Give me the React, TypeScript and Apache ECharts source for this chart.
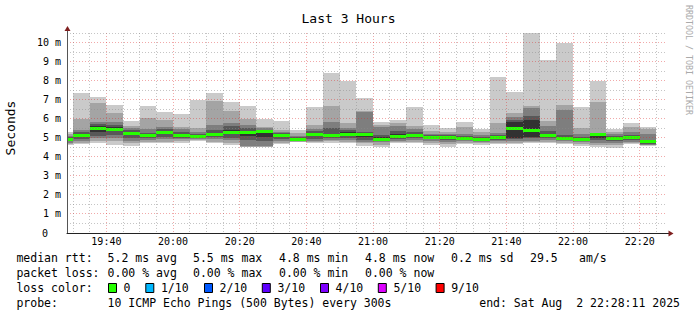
import React, { useEffect, useRef } from 'react';
import * as echarts from 'echarts';

// ---- data ----
const windowStart = '19:28:11';
const windowEnd = '22:28:11';
const slotStart = [
  '19:25', '19:30', '19:35', '19:40', '19:45', '19:50', '19:55', '20:00', '20:05', '20:10', '20:15', '20:20',
  '20:25', '20:30', '20:35', '20:40', '20:45', '20:50', '20:55', '21:00', '21:05', '21:10', '21:15', '21:20',
  '21:25', '21:30', '21:35', '21:40', '21:45', '21:50', '21:55', '22:00', '22:05', '22:10', '22:15', '22:20',
];
// sorted pings per 5-minute slot (ms)
const ping1 = [4.6, 4.65, 4.72, 4.62, 4.57, 4.7, 4.7, 4.72, 4.82, 4.7, 4.62, 4.5, 4.5, 4.68, 4.76, 4.7, 4.75, 4.72, 4.58, 4.5, 4.7, 4.7, 4.62, 4.5, 4.65, 4.6, 4.67, 4.68, 4.7, 4.72, 4.68, 4.55, 4.5, 4.45, 4.65, 4.57];
const ping2 = [4.68, 4.75, 4.85, 4.85, 4.72, 4.8, 4.8, 4.82, 4.88, 4.8, 4.75, 4.53, 4.53, 4.75, 4.8, 4.78, 4.82, 4.8, 4.7, 4.62, 4.78, 4.78, 4.72, 4.65, 4.75, 4.7, 4.75, 4.75, 4.78, 4.8, 4.75, 4.65, 4.6, 4.6, 4.72, 4.6];
const ping3 = [4.75, 4.85, 5.0, 5.0, 4.85, 4.9, 4.95, 4.92, 4.95, 4.92, 4.88, 4.56, 4.58, 4.85, 4.85, 4.85, 4.9, 4.9, 4.8, 4.78, 4.85, 4.88, 4.82, 4.8, 4.85, 4.78, 4.82, 4.85, 4.85, 4.9, 4.82, 4.78, 4.75, 4.75, 4.8, 4.62];
const ping4 = [4.82, 4.95, 5.1, 5.15, 4.98, 5.0, 5.05, 5.0, 5.0, 5.02, 5.0, 4.9, 4.85, 4.95, 4.88, 4.92, 4.98, 5.0, 4.9, 4.88, 4.95, 4.98, 4.92, 4.9, 4.9, 4.85, 4.9, 4.95, 4.97, 4.98, 4.9, 4.88, 4.9, 4.85, 4.88, 4.68];
const ping5 = [4.88, 5.05, 5.3, 5.35, 5.15, 5.08, 5.2, 5.08, 5.05, 5.12, 5.2, 5.1, 5.06, 5.05, 4.92, 5.1, 5.05, 5.12, 5.05, 4.95, 5.05, 5.06, 5.0, 5.0, 4.95, 4.9, 4.98, 5.0, 5.05, 5.05, 4.95, 4.93, 5.0, 4.93, 4.95, 4.72];
const ping6 = [4.95, 5.2, 5.6, 5.55, 5.3, 5.15, 5.35, 5.17, 5.1, 5.25, 5.4, 5.35, 5.32, 5.15, 4.97, 5.25, 5.15, 5.28, 5.25, 5.05, 5.2, 5.2, 5.08, 5.08, 5.0, 4.96, 5.08, 5.85, 5.95, 5.15, 5.05, 4.98, 5.1, 5.0, 5.05, 4.78];
const ping7 = [5.02, 5.3, 5.7, 5.65, 5.4, 5.25, 5.45, 5.3, 5.2, 5.4, 5.6, 5.5, 5.4, 5.25, 5.02, 5.35, 5.5, 5.4, 5.3, 5.15, 5.35, 5.32, 5.15, 5.15, 5.08, 5.05, 5.15, 5.95, 6.13, 5.35, 5.15, 5.05, 5.2, 5.1, 5.15, 4.9];
const ping8 = [5.1, 5.4, 5.85, 5.85, 5.5, 5.45, 5.55, 5.45, 5.3, 5.68, 5.78, 5.65, 5.5, 5.3, 5.1, 5.45, 5.82, 5.5, 6.33, 5.55, 5.62, 5.45, 5.22, 5.22, 5.2, 5.15, 5.25, 6.1, 6.55, 5.6, 6.45, 5.2, 5.25, 5.2, 5.3, 5.2];
const ping9 = [5.2, 6.0, 6.85, 6.3, 5.63, 6.02, 5.93, 5.55, 5.5, 6.95, 6.4, 6.0, 5.58, 5.4, 5.25, 5.65, 6.67, 5.78, 6.4, 5.67, 5.78, 5.62, 5.35, 5.3, 5.58, 5.3, 5.75, 6.3, 6.68, 5.9, 6.7, 5.5, 6.88, 5.32, 5.57, 5.44];
const ping10 = [5.3, 7.35, 7.15, 6.7, 5.9, 6.67, 6.35, 6.25, 6.98, 7.35, 6.88, 6.67, 5.97, 5.88, 5.43, 6.6, 8.4, 8.0, 7.1, 5.81, 5.93, 6.6, 5.65, 5.51, 5.83, 5.46, 8.18, 7.4, 10.5, 9.07, 9.97, 6.6, 8.0, 5.47, 5.78, 5.58];
const median = [4.95, 5.13, 5.52, 5.48, 5.26, 5.13, 5.32, 5.13, 5.08, 5.22, 5.32, 5.3, 5.38, 5.17, 4.95, 5.2, 5.12, 5.22, 5.18, 4.91, 5.1, 5.14, 5.06, 5.06, 4.98, 4.93, 5.05, 5.5, 5.42, 5.12, 4.99, 4.95, 5.2, 5.0, 5.06, 4.82];

const xTickLabels = ['19:40', '20:00', '20:20', '20:40', '21:00', '21:20', '21:40', '22:00', '22:20'];
const yMax = 10.5;

const title = 'Last 3 Hours';
const yAxisName = 'Seconds';
const watermark = 'RRDTOOL / TOBI OETIKER';
const rttLabel = 'median rtt:';
const rttStats = ['5.2 ms avg', '5.5 ms max', '4.8 ms min', '4.8 ms now', '0.2 ms sd', '29.5', 'am/s'];
const lossLabel = 'packet loss:';
const lossStats = ['0.00 % avg', '0.00 % max', '0.00 % min', '0.00 % now'];
const lossColorLabel = 'loss color:';
const lossNames = ['0', '1/10', '2/10', '3/10', '4/10', '5/10', '9/10'];
const lossColors = ['#26ff00', '#00b8ff', '#0059ff', '#5e00ff', '#7e00ff', '#dd00ff', '#ff0000'];
const probeLabel = 'probe:';
const probeText = '10 ICMP Echo Pings (500 Bytes) every 300s';
const endText = 'end: Sat Aug  2 22:28:11 2025';

// ---- styles / layout ----
const smokeColors = ['#cacaca', '#a4a4a4', '#7e7e7e', '#585858', '#323232'];
const FONT = '"DejaVu Sans Mono", "Liberation Mono", monospace';
const rttX = [107.6, 193, 279, 365, 451, 530, 579];
const lossX = [107.6, 193, 279, 365];
const boxX = [108, 145.3, 204, 261.8, 320, 377.8, 435.6];
const rowY = [258, 273, 288, 303];

const toMin = (t: string) => {
  const [h, m, s] = t.split(':').map(Number);
  return h * 60 + m + (s || 0) / 60;
};
const fmtHM = (v: number) => {
  const h = Math.floor(v / 60 + 1e-6);
  const m = Math.round(v - h * 60);
  return `${h}:${String(m).padStart(2, '0')}`;
};

export default function App() {
  const ref = useRef<HTMLDivElement>(null);
  useEffect(() => {
    if (!ref.current) return;
    const chart = echarts.init(ref.current, undefined, { renderer: 'svg' });
    const xMin = toMin(windowStart);
    const xMax = toMin(windowEnd);

    const smokeData = slotStart.map((t, i) => [
      toMin(t), toMin(t) + 5,
      ping1[i], ping2[i], ping3[i], ping4[i], ping5[i], ping6[i], ping7[i], ping8[i], ping9[i], ping10[i],
      median[i],
    ]);

    const vGrid: number[][] = [];
    for (let v = Math.ceil(xMin / 5) * 5; v < xMax; v += 5) vGrid.push([v, v % 20 === 0 ? 1 : 0]);
    const hGrid: number[][] = [];
    for (let k = 1; k * 0.5 <= yMax; k++) hGrid.push([k * 0.5, k % 2 === 0 ? 1 : 0]);

    const minorColor = 'rgba(140,140,140,0.5)';
    const majorColor = 'rgba(220,40,40,0.4)';

    const textEl = (text: string, x: number, y: number, extra: any = {}) => ({
      type: 'text', x, y,
      style: { text, fill: '#000', font: `11.5px ${FONT}`, textVerticalAlign: 'middle', ...extra },
    });

    const graphics: any[] = [];
    graphics.push(textEl(rttLabel, 16.4, rowY[0]));
    rttStats.forEach((s, i) => graphics.push(textEl(s, rttX[i], rowY[0])));
    graphics.push(textEl(lossLabel, 16.4, rowY[1]));
    lossStats.forEach((s, i) => graphics.push(textEl(s, lossX[i], rowY[1])));
    graphics.push(textEl(lossColorLabel, 16.4, rowY[2]));
    lossNames.forEach((s, i) => {
      graphics.push({
        type: 'rect', shape: { x: boxX[i] + 0.5, y: rowY[2] - 4.5, width: 8, height: 9 },
        style: { fill: lossColors[i], stroke: '#000', lineWidth: 1 },
      });
      graphics.push(textEl(s, boxX[i] + 15.6, rowY[2]));
    });
    graphics.push(textEl(probeLabel, 16.4, rowY[3]));
    graphics.push(textEl(probeText, 107.6, rowY[3]));
    graphics.push(textEl(endText, 680, rowY[3], { textAlign: 'right' }));
    graphics.push({
      type: 'text', x: 10, y: 128, rotation: Math.PI / 2,
      style: { text: yAxisName, fill: '#000', font: `13px ${FONT}`, textAlign: 'center', textVerticalAlign: 'middle' },
    });
    graphics.push({
      type: 'text', x: 689, y: 60, rotation: -Math.PI / 2,
      style: { text: watermark, fill: '#aaaaaa', font: `8.3px ${FONT}`, textAlign: 'center', textVerticalAlign: 'middle' },
    });
    // axis arrows
    graphics.push({ type: 'line', shape: { x1: 67.5, y1: 33, x2: 67.5, y2: 30 }, style: { stroke: '#555', lineWidth: 1 } });
    graphics.push({ type: 'polygon', shape: { points: [[64.5, 31], [70.5, 31], [67.5, 26]] }, style: { fill: '#7f1f1f' } });
    graphics.push({ type: 'line', shape: { x1: 667, y1: 233.5, x2: 669, y2: 233.5 }, style: { stroke: '#222', lineWidth: 1 } });
    graphics.push({ type: 'polygon', shape: { points: [[668.5, 230.5], [668.5, 236.5], [673.5, 233.5]] }, style: { fill: '#7f1f1f' } });

    chart.setOption({
      animation: false,
      backgroundColor: '#ffffff',
      title: {
        text: title, left: 'center', top: 7,
        textStyle: { fontFamily: FONT, fontSize: 13, fontWeight: 'normal', color: '#000' },
      },
      grid: { left: 67, top: 33, width: 600, height: 200, containLabel: false },
      xAxis: {
        type: 'value', min: xMin, max: xMax, z: 4,
        axisLine: { show: true, lineStyle: { color: '#222', width: 1 } },
        axisTick: { show: false },
        splitLine: { show: false },
        axisLabel: {
          customValues: xTickLabels.map(toMin),
          formatter: (v: number) => fmtHM(v),
          fontFamily: FONT, fontSize: 10, color: '#000', margin: 3,
        },
      },
      yAxis: {
        type: 'value', min: 0, max: yMax, interval: 0.5, z: 4,
        axisLine: { show: true, lineStyle: { color: '#555', width: 1 } },
        axisTick: { show: false },
        splitLine: { show: false },
        axisLabel: {
          fontFamily: FONT, fontSize: 10, color: '#000', margin: 6,
          formatter: (v: number) => (Math.abs(v - Math.round(v)) > 1e-6 ? '' : v === 0 ? '{z|0}' : `${Math.round(v)} m`),
          rich: { z: { fontFamily: FONT, fontSize: 10, color: '#000', padding: [0, 13, 0, 0] } },
        },
      },
      series: [
        {
          type: 'custom', name: 'smoke', z: 2, clip: true,
          encode: { x: [0, 1], y: [2, 11] },
          data: smokeData,
          renderItem: (params: any, api: any) => {
            const cs = params.coordSys;
            const bounds = { x: cs.x, y: cs.y, width: cs.width, height: cs.height };
            const x0 = api.value(0);
            const x1 = api.value(1);
            const children: any[] = [];
            for (let b = 0; b < 5; b++) {
              const lo = api.value(2 + b);
              const hi = api.value(11 - b);
              const a = api.coord([x0, hi]);
              const c = api.coord([x1, lo]);
              const ax = Math.round(a[0]), ay = Math.round(a[1]);
              const rect = echarts.graphic.clipRectByRect(
                { x: ax, y: ay, width: Math.round(c[0]) - ax, height: Math.max(1, Math.round(c[1]) - ay) },
                bounds,
              );
              if (rect) children.push({ type: 'rect', shape: rect, style: { fill: smokeColors[b] } });
            }
            const m0 = api.coord([x0, api.value(12)]);
            const m1 = api.coord([x1, api.value(12)]);
            const mx = Math.round(m0[0]);
            const mr = echarts.graphic.clipRectByRect(
              { x: mx, y: Math.round(m0[1]) - 1, width: Math.round(m1[0]) - mx, height: 3 },
              bounds,
            );
            if (mr) children.push({ type: 'rect', shape: mr, style: { fill: lossColors[0] } });
            return { type: 'group', children };
          },
        },
        {
          type: 'custom', name: 'vgrid', z: 3, silent: true,
          data: vGrid,
          renderItem: (params: any, api: any) => {
            const x = api.value(0);
            const top = api.coord([x, yMax]);
            const bot = api.coord([x, 0]);
            const X = Math.floor(top[0]) + 0.5;
            return {
              type: 'line',
              shape: { x1: X, y1: top[1], x2: X, y2: bot[1] },
              style: { stroke: api.value(1) ? majorColor : minorColor, lineWidth: 1, lineDash: [1, 2] },
            };
          },
        },
        {
          type: 'custom', name: 'hgrid', z: 3, silent: true,
          encode: { y: 0 },
          data: hGrid,
          renderItem: (params: any, api: any) => {
            const y = api.value(0);
            const l = api.coord([xMin, y]);
            const r = api.coord([xMax, y]);
            const Y = Math.floor(l[1]) + 0.5;
            return {
              type: 'line',
              shape: { x1: l[0], y1: Y, x2: r[0], y2: Y },
              style: { stroke: api.value(1) ? majorColor : minorColor, lineWidth: 1, lineDash: [1, 2] },
            };
          },
        },
      ],
      graphic: graphics,
    });
    return () => chart.dispose();
  }, []);
  return <div ref={ref} style={{ position: 'fixed', left: 0, top: 0, width: 697, height: 315 }} />;
}
